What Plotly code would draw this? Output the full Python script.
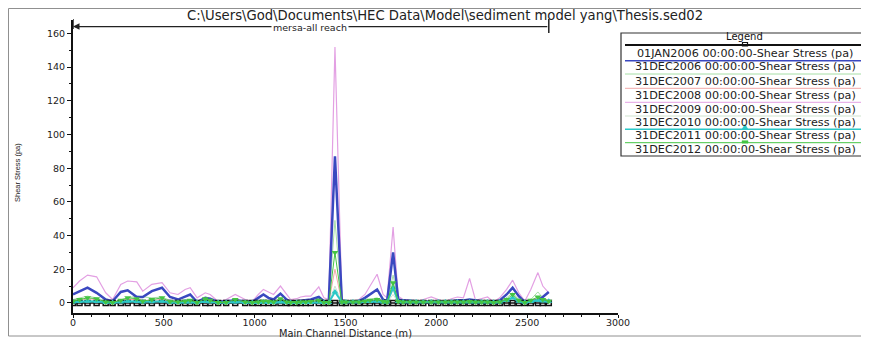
import plotly.graph_objects as go

# ---------------- data ----------------
distance = [0, 36, 80, 130, 180, 218, 263, 301, 351, 384, 434, 490, 534, 578, 617, 645,
            683, 728, 755, 799, 843, 893, 948, 987, 1020, 1048, 1076, 1104, 1142, 1176,
            1198, 1231, 1253, 1281, 1309, 1353, 1381, 1408, 1442, 1480, 1502, 1541, 1574,
            1607, 1635, 1674, 1707, 1729, 1762, 1790, 1817, 1856, 1889, 1928, 1972, 2011,
            2050, 2083, 2116, 2149, 2183, 2216, 2249, 2282, 2315, 2349, 2387, 2420, 2454,
            2487, 2520, 2559, 2586, 2619]

s_2009 = [9, 13, 16.5, 15.5, 6, 2, 11, 13, 12.5, 7, 11, 12, 6, 5, 8, 9,
          3, 6, 5, 0.8, 2, 5, 2, 1, 5, 8, 6.5, 5, 10, 5,
          2, 2.5, 3.5, 4, 4, 9.5, 3, 2, 152, 2, 1, 1, 2,
          5, 10, 17, 5, 3, 45, 4, 2, 1.5, 1, 2, 3.5, 2,
          0.8, 2.5, 3.5, 3, 14.5, 1.5, 2.5, 3.5, 0.5, 3, 8, 13.5, 6,
          1, 8, 18, 10, 6]

s_2006 = [5, 7, 9, 6, 2, 1, 6.5, 7.5, 3.5, 3.5, 7, 9, 3.5, 2, 4, 5,
          0.5, 3, 2.5, 0.5, 1, 1.5, 1, 0.5, 3, 5, 3, 2, 5.5, 2,
          0.5, 1, 1.5, 1.5, 2, 3.5, 1, 1, 87, 1, 1, 1, 1,
          3, 5, 8, 2, 1, 30, 2, 1.5, 1, 1, 0.8, 0.8, 0.8,
          0.8, 1, 1.5, 1.5, 2, 1.5, 1, 1, 0.5, 1.5, 5, 9, 4,
          0.5, 1, 1.5, 3.5, 6.5]

s_2007 = [2, 3, 4, 3, 1, 0.5, 2, 3, 4, 3.5, 3, 3.5, 1.5, 1, 1.5, 2,
          0.5, 2, 1.5, 0.3, 0.5, 2, 1, 0.3, 1, 1.5, 1, 1, 2.5, 1,
          0.3, 0.5, 0.8, 0.8, 1, 2.5, 0.5, 0.5, 49, 0.5, 0.5, 0.5, 0.5,
          1.5, 2, 3, 1, 0.5, 16.5, 1, 0.8, 0.5, 0.5, 0.5, 0.5, 0.5,
          0.5, 0.5, 0.8, 0.8, 1, 0.8, 0.5, 0.5, 0.3, 0.8, 3, 6, 2,
          0.3, 2, 6.5, 3, 1]

s_2008 = [1, 2, 2.5, 2, 0.5, 0.3, 1.5, 2, 2, 1.5, 1.5, 2, 1, 0.5, 1, 1.2,
          0.3, 1, 0.8, 0.2, 0.3, 0.8, 0.5, 0.2, 0.5, 1, 0.7, 0.5, 1.5, 0.5,
          0.2, 0.3, 0.4, 0.4, 0.5, 1.5, 0.3, 0.3, 20, 0.3, 0.3, 0.3, 0.3,
          1, 1.2, 2, 0.5, 0.3, 8, 0.5, 0.4, 0.3, 0.3, 0.3, 0.3, 0.3,
          0.3, 0.3, 0.5, 0.5, 0.6, 0.5, 0.3, 0.3, 0.2, 0.5, 1.5, 3, 1,
          0.2, 1, 3, 1.5, 0.5]

s_2010 = [0.5, 0.8, 1, 1, 0.3, 0.2, 0.8, 1, 0.8, 0.6, 0.8, 1, 0.4, 0.3, 0.5, 0.5,
          0.2, 0.6, 0.4, 0.1, 0.2, 0.4, 0.2, 0.1, 0.3, 0.5, 0.3, 0.3, 0.7, 0.3,
          0.1, 0.2, 0.2, 0.2, 0.3, 0.6, 0.2, 0.2, 10, 0.2, 0.2, 0.2, 0.2,
          0.5, 0.6, 1, 0.3, 0.2, 5, 0.3, 0.2, 0.2, 0.2, 0.2, 0.2, 0.2,
          0.2, 0.2, 0.3, 0.3, 0.4, 0.3, 0.2, 0.2, 0.1, 0.3, 0.8, 1.5, 0.6,
          0.1, 0.5, 1.5, 0.8, 0.4]

s_2011 = [0.5, 0.8, 1, 0.8, 0.3, 0.3, 0.6, 1, 0.8, 0.6, 0.7, 1, 0.4, 0.3, 0.5, 0.5,
          0.2, 0.8, 0.5, 0.2, 0.2, 0.5, 0.2, 0.2, 0.3, 0.5, 0.3, 0.3, 0.6, 0.3,
          0.2, 0.2, 0.3, 0.3, 0.3, 0.6, 0.2, 0.2, 6.5, 0.5, 0.5, 0.5, 0.5,
          0.8, 0.8, 1, 0.5, 0.5, 9, 0.8, 0.6, 0.5, 0.5, 0.5, 0.5, 0.5,
          0.5, 0.5, 0.6, 0.6, 0.6, 0.6, 0.5, 0.5, 0.4, 0.5, 1.5, 3, 1,
          0.4, 0.8, 1.5, 1.2, 1]

s_2012 = [1, 2, 3, 2.5, 0.5, 0.3, 1.5, 3, 2.5, 1, 2, 3, 0.8, 0.5, 1, 1.5,
          0.3, 2.5, 1.5, 0.2, 0.3, 2, 0.5, 0.2, 0.5, 1, 0.8, 0.5, 2.5, 0.5,
          0.2, 0.3, 0.5, 0.5, 0.8, 1.5, 0.3, 0.3, 30, 0.5, 0.5, 0.5, 0.5,
          1, 1.5, 2, 0.8, 0.5, 12, 0.8, 0.5, 0.5, 0.5, 0.5, 0.5, 0.5,
          0.5, 0.5, 0.5, 0.5, 0.8, 0.5, 0.5, 0.5, 0.3, 0.5, 2, 5, 1.5,
          0.3, 1.5, 3.5, 2, 1]

s_jan2006 = [0.0] * len(distance)

profile_names = ["01JAN2006 00:00:00-Shear Stress (pa)",
                 "31DEC2006 00:00:00-Shear Stress (pa)",
                 "31DEC2007 00:00:00-Shear Stress (pa)",
                 "31DEC2008 00:00:00-Shear Stress (pa)",
                 "31DEC2009 00:00:00-Shear Stress (pa)",
                 "31DEC2010 00:00:00-Shear Stress (pa)",
                 "31DEC2011 00:00:00-Shear Stress (pa)",
                 "31DEC2012 00:00:00-Shear Stress (pa)"]

x_ticks = [0, 500, 1000, 1500, 2000, 2500, 3000]
y_ticks = [0, 20, 40, 60, 80, 100, 120, 140, 160]

title_text = "C:\\Users\\God\\Documents\\HEC Data\\Model\\sediment model yang\\Thesis.sed02"
reach_label = "mersa-all reach"

# ---------------- styles ----------------
C_BLACK = "#111111"
C_BLUE = "#3a48c0"
C_LGREEN = "#a6dea6"
C_RED = "#f2a8a8"
C_PINK = "#e3a0e3"
C_2010 = "#cfe3cf"
C_CYAN = "#2cc8c8"
C_GREEN = "#44c444"

W, H = 869, 339
OFF = 8  # default page body margin
L, R, T, B = 73, 618, 20, 313  # plot area in page pixels


def px(xp):
    return (xp - L) / (R - L)


def py(yp):
    return (B - yp) / (B - T)


def ann(x, y, text, **kw):
    d = dict(x=px(x), y=py(y), xref="paper", yref="paper", text=text, showarrow=False,
             xanchor="center", yanchor="middle")
    d.update(kw)
    return d


fig = go.Figure()

series = [
    (s_2009, dict(color=C_PINK, width=1.2), None),
    (s_2008, dict(color=C_RED, width=1), None),
    (s_2010, dict(color=C_2010, width=1), None),
    (s_2007, dict(color=C_LGREEN, width=1), None),
    (s_2006, dict(color=C_BLUE, width=2.5), None),
    (s_jan2006, dict(color=C_BLACK, width=1.5),
     dict(symbol="square-open", size=5, color=C_BLACK, line=dict(width=1.5, color=C_BLACK))),
    (s_2011, dict(color=C_CYAN, width=2), dict(symbol="triangle-up", size=6, color=C_CYAN)),
    (s_2012, dict(color=C_GREEN, width=1), dict(symbol="triangle-down", size=6, color=C_GREEN)),
]

for vals, ln, mk in series:
    fig.add_trace(go.Scatter(
        x=distance, y=vals,
        mode="lines+markers" if mk else "lines",
        line=ln, marker=mk, showlegend=False, hoverinfo="skip"))

shapes = []
annotations = []

# outer frame
shapes.append(dict(type="rect", xref="paper", yref="paper",
                   x0=px(8.5), x1=px(866.5), y0=py(8.5), y1=py(336),
                   line=dict(color="#909090", width=1)))

# reach indicator
reach_y = 164.1
annotations.append(dict(x=0, y=reach_y, ax=distance[-1], ay=reach_y, axref="x", ayref="y",
                        xref="x", yref="y", text="", showarrow=True, arrowhead=2,
                        arrowsize=1, arrowwidth=1.3, arrowcolor="#222222"))
shapes.append(dict(type="line", xref="x", yref="paper", x0=distance[-1], x1=distance[-1],
                   y0=py(19), y1=py(33), line=dict(color="#222222", width=1.5)))
shapes.append(dict(type="line", xref="x", yref="paper", x0=0, x1=0,
                   y0=py(19), y1=py(29), line=dict(color="#222222", width=1.5)))
annotations.append(ann(310, 27, reach_label, bgcolor="white", borderpad=1,
                       font=dict(family="DejaVu Sans", size=9.5, color="#222222")))

# title
annotations.append(ann(445, 15.5, title_text,
                       font=dict(family="DejaVu Sans", size=13.2, color="#222222")))

# axis titles
annotations.append(ann(17, 173, "Shear Stress (pa)", textangle=-90,
                       font=dict(family="Liberation Sans", size=7.5, color="#222222")))
annotations.append(ann(345, 333.5, "Main Channel Distance (m)",
                       font=dict(family="DejaVu Sans", size=9.8, color="#222222")))

# custom legend
shapes.append(dict(type="rect", xref="paper", yref="paper", x0=px(621), x1=px(866),
                   y0=py(156), y1=py(33), line=dict(color="#333333", width=1.2),
                   fillcolor="white", layer="below"))
annotations.append(ann(744, 37, "Legend",
                       font=dict(family="DejaVu Sans", size=10, color="#111111")))
line_y = [45, 60.7, 74, 88.3, 102.3, 116, 129.3, 142.7]
text_y = [53, 66.7, 81.7, 95.7, 109.3, 122.3, 135.7, 149]
leg_style = [(C_BLACK, 2), (C_BLUE, 1.5), (C_LGREEN, 1), (C_RED, 1), (C_PINK, 1),
             (C_2010, 1), (C_CYAN, 1.5), (C_GREEN, 1)]
for i, name in enumerate(profile_names):
    col, wd = leg_style[i]
    shapes.append(dict(type="line", xref="paper", yref="paper", x0=px(625), x1=px(862),
                       y0=py(line_y[i]), y1=py(line_y[i]), line=dict(color=col, width=wd)))
    annotations.append(ann(745, text_y[i], name,
                           font=dict(family="DejaVu Sans", size=11.2, color="#222222")))
# legend marker glyphs
cx = 745
shapes.append(dict(type="rect", xref="paper", yref="paper", x0=px(cx - 2.5), x1=px(cx + 2.5),
                   y0=py(line_y[0] - 2.5), y1=py(line_y[0] + 1), line=dict(color=C_BLACK, width=1.2)))
shapes.append(dict(type="path", xref="paper", yref="paper",
                   path=f"M {px(cx-3)} {py(line_y[6])} L {px(cx+3)} {py(line_y[6])} L {px(cx)} {py(line_y[6]-5)} Z",
                   fillcolor=C_CYAN, line=dict(color=C_CYAN, width=0.5)))
shapes.append(dict(type="rect", xref="paper", yref="paper", x0=px(cx - 3), x1=px(cx + 3),
                   y0=py(line_y[7] - 2), y1=py(line_y[7] + 0.5), fillcolor=C_GREEN,
                   line=dict(color=C_GREEN, width=0.5)))

fig.update_layout(
    width=W - OFF, height=H - OFF,
    margin=dict(l=L - OFF, r=W - R, t=T - OFF, b=H - B, pad=0, autoexpand=False),
    paper_bgcolor="white", plot_bgcolor="white",
    shapes=shapes, annotations=annotations,
    showlegend=False,
    xaxis=dict(range=[0, 3000], tickvals=x_ticks, ticktext=[str(v) for v in x_ticks],
               automargin=False, ticklabelstandoff=-3,
               showgrid=False, zeroline=False, showline=True, linecolor="#111111", linewidth=1.5,
               ticks="outside", ticklen=3, tickwidth=1, tickcolor="#111111",
               minor=dict(dtick=100, ticks="outside", ticklen=2, tickcolor="#111111"),
               tickfont=dict(family="DejaVu Sans", size=9.5, color="#222222")),
    yaxis=dict(range=[-6, 168], tickvals=y_ticks, ticktext=[str(v) for v in y_ticks],
               automargin=False,
               showgrid=False, zeroline=False, showline=True, linecolor="#111111", linewidth=2,
               ticks="outside", ticklen=4, tickwidth=1, tickcolor="#111111",
               minor=dict(dtick=10, ticks="outside", ticklen=2, tickcolor="#111111"),
               tickfont=dict(family="DejaVu Sans", size=9.5, color="#222222")),
)

fig.write_html("out.html")
